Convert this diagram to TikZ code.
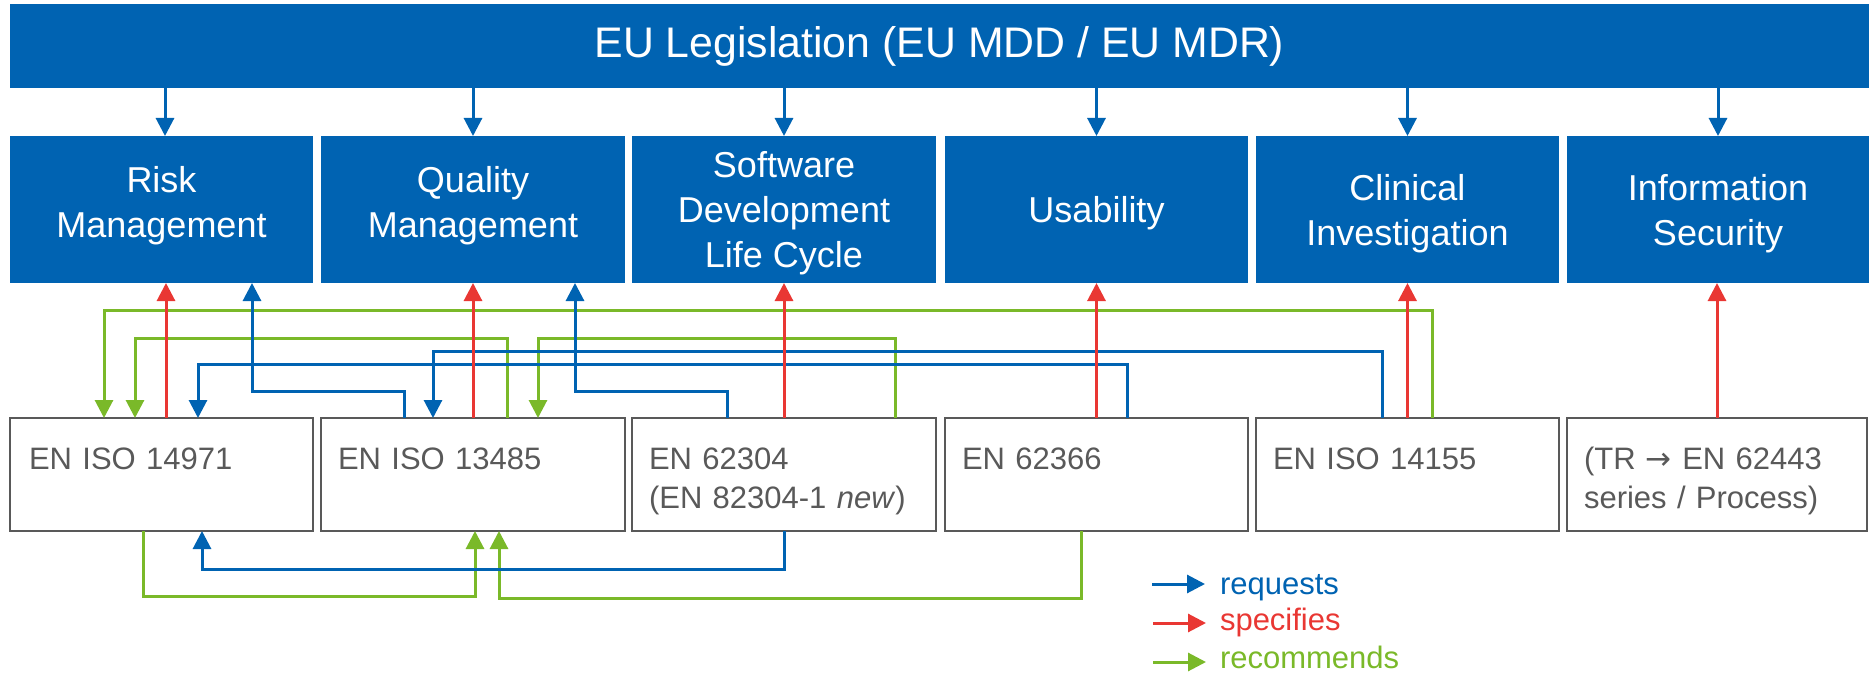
\documentclass[tikz,border=0pt]{standalone}
\usepackage{fontspec}
\setmainfont{Liberation Sans}
\newfontfamily\arrowfont{DejaVu Sans}
\usetikzlibrary{arrows.meta,calc}
\definecolor{eublue}{RGB}{0,99,178}
\definecolor{eured}{RGB}{233,55,51}
\definecolor{eugreen}{RGB}{122,185,41}
\definecolor{boxgray}{RGB}{89,89,89}
\begin{document}
\begin{tikzpicture}[x=0.5pt,y=-0.5pt,
  banner/.style={fill=eublue, text=white, inner sep=0, outer sep=0, minimum width=929.5pt, minimum height=42pt, font=\fontsize{21.4pt}{25pt}\selectfont},
  topic/.style={fill=eublue, text=white, inner sep=0, outer sep=0, minimum height=73.5pt, align=center, font=\fontsize{18pt}{22.5pt}\selectfont},
  stdbox/.style={draw=boxgray, line width=1pt, inner sep=0, outer sep=0, minimum height=56.5pt},
  stdtext/.style={text=boxgray, inner sep=0, outer sep=0, anchor=base west, text width=140pt, align=left, font=\fontsize{15.5pt}{19.5pt}\selectfont},
  conn/.style={line width=1.5pt, -{Triangle[length=9pt,width=9pt]}},
  req/.style={conn, color=eublue},
  spec/.style={conn, color=eured},
  rec/.style={conn, color=eugreen},
  legtext/.style={inner sep=0, outer sep=0, anchor=base west, font=\fontsize{15.5pt}{19pt}\selectfont},
]
\useasboundingbox (0,0) rectangle (1869,674);

% banner and topic boxes
\node[banner] (eu) at (939.5,46) {EU Legislation (EU MDD / EU MDR)};
\node[topic, minimum width=151.5pt] (risk) at (161.5,209.5) {};
\node[topic, minimum width=152pt] (qm) at (473,209.5) {};
\node[topic, minimum width=152pt] (sdlc) at (784,209.5) {};
\node[topic, minimum width=151.5pt] (usab) at (1096.5,209.5) {};
\node[topic, minimum width=151.5pt] (clin) at (1407.5,209.5) {};
\node[topic, minimum width=151pt] (info) at (1718,209.5) {};
\node[topic, minimum height=0pt, fill=none, yshift=2pt] (riskt) at (risk) {Risk\\Management};
\node[topic, minimum height=0pt, fill=none, yshift=2pt] (qmt) at (qm) {Quality\\Management};
\node[topic, minimum height=0pt, fill=none, yshift=-2pt] (sdlct) at (sdlc) {Software\\Development\\Life Cycle};
\node[topic, minimum height=0pt, fill=none, yshift=-2pt] (usabt) at (usab) {Usability};
\node[topic, minimum height=0pt, fill=none, yshift=-2pt] (clint) at (clin) {Clinical\\Investigation};
\node[topic, minimum height=0pt, fill=none, yshift=-2pt] (infot) at (info) {Information\\Security};

% standard boxes
\node[stdbox, minimum width=151.5pt] (s14971) at (161.5,474.5) {};
\node[stdbox, minimum width=152pt] (s13485) at (473,474.5) {};
\node[stdbox, minimum width=152pt] (s62304) at (784,474.5) {};
\node[stdbox, minimum width=151.5pt] (s62366) at (1096.5,474.5) {};
\node[stdbox, minimum width=151.5pt] (s14155) at (1407.5,474.5) {};
\node[stdbox, minimum width=150pt] (s62443) at (1717,474.5) {};

\node[stdtext] (t14971) at ($(s14971.north west)+(19,51)$) {EN ISO 14971};
\node[stdtext] (t13485) at ($(s13485.north west)+(17,51)$) {EN ISO 13485};
\node[stdtext] (t62304) at ($(s62304.north west)+(17,51)$) {EN 62304\\(EN 82304-1 \textit{new})};
\node[stdtext] (t62366) at ($(s62366.north west)+(17,51)$) {EN 62366};
\node[stdtext] (t14155) at ($(s14155.north west)+(17,51)$) {EN ISO 14155};
\node[stdtext] (t62443) at ($(s62443.north west)+(17,51)$) {(TR {\arrowfont →} EN 62443\\series / Process)};

% legislation requests topics
\draw[req] ($(eu.south west)+(155,0)$) -- ($(risk.north west)+(155,0)$);
\foreach \b in {qm,sdlc,usab,clin,info}
  \draw[req] (eu.south -| \b.north) -- (\b.north);

% recommends
\draw[rec] ($(s14155.north west)+(176,0)$) |- (104,310) -- ($(s14971.north west)+(94,0)$);
\draw[rec] ($(s13485.north west)+(186,0)$) |- (135,338) -- ($(s14971.north west)+(125,0)$);
\draw[rec] ($(s62304.north west)+(263,0)$) |- (538,338) -- ($(s13485.north west)+(217,0)$);
\draw[rec] ($(s14971.south west)+(133,0)$) |- (475,596) -- ($(s13485.south west)+(154,0)$);
\draw[rec] ($(s62366.south west)+(136,0)$) |- (499,598) -- ($(s13485.south west)+(178,0)$);

% requests
\draw[req] ($(s13485.north west)+(83,0)$) |- (252,391) -- ($(risk.south west)+(242,0)$);
\draw[req] ($(s62304.north west)+(95,0)$) |- (575,391) -- ($(qm.south west)+(254,0)$);
\draw[req] ($(s62366.north west)+(182,0)$) |- (198,364) -- ($(s14971.north west)+(188,0)$);
\draw[req] ($(s14155.north west)+(126,0)$) |- (433,351) -- ($(s13485.north west)+(112,0)$);
\draw[req] (s62304.south) |- (202,569) -- ($(s14971.south west)+(192,0)$);

% specifies
\draw[spec] ($(s14971.north west)+(156,0)$) -- ($(risk.south west)+(156,0)$);
\draw[spec] (s13485.north) -- (s13485.north |- qm.south);
\draw[spec] (s62304.north) -- (s62304.north |- sdlc.south);
\draw[spec] (s62366.north) -- (s62366.north |- usab.south);
\draw[spec] (s14155.north) -- (s14155.north |- clin.south);
\draw[spec] (s62443.north) -- (s62443.north |- info.south);

% legend
\coordinate (lreqa) at (1152,584); \coordinate (lreqb) at (1205,584);
\coordinate (lspea) at (1153,623); \coordinate (lspeb) at (1206,623);
\coordinate (lreca) at (1153,662); \coordinate (lrecb) at (1206,662);
\draw[req] (lreqa) -- (lreqb);
\draw[spec] (lspea) -- (lspeb);
\draw[rec] (lreca) -- (lrecb);
\node[legtext, text=eublue] (lreq) at (1220,594) {requests};
\node[legtext, text=eured] (lspe) at (1220,630) {specifies};
\node[legtext, text=eugreen] (lrec) at (1220,668) {recommends};
\end{tikzpicture}
\end{document}
